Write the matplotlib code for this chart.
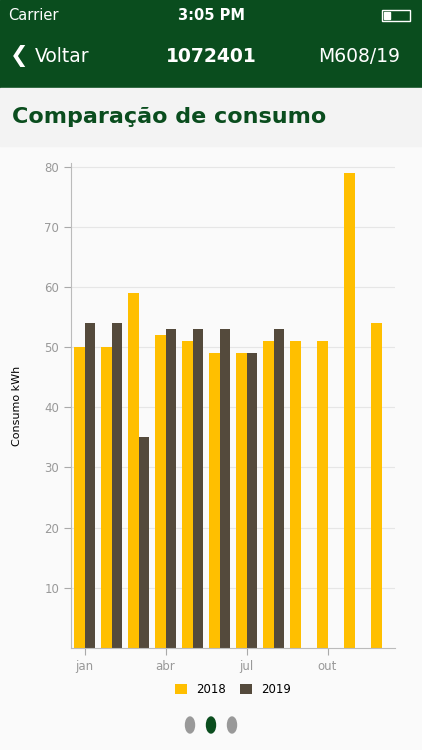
import matplotlib
matplotlib.use("Agg")
import matplotlib.pyplot as plt
import numpy as np

months = list(range(12))
tick_pos = [0, 3, 6, 9]
tick_labels = ["jan", "abr", "jul", "out"]
v2018 = [50, 50, 59, 52, 51, 49, 49, 51, 51, 51, 79, 54]
v2019 = [54, 54, 35, 53, 53, 53, 49, 53]
yticks = [10, 20, 30, 40, 50, 60, 70, 80]

W, H = 422, 750
fig = plt.figure(figsize=(W/100, H/100), dpi=100)
fig.patch.set_facecolor("#fafafa")
green = "#0a4d1e"

def rect(y0, y1, color):
    fig.patches.append(plt.Rectangle((0, 1 - y1/H), 1, (y1 - y0)/H, transform=fig.transFigure, color=color, zorder=0))

rect(0, 88, green)
rect(88, 146, "#f3f3f3")
def t(x, y, s, **kw):
    fig.text(x/W, 1 - y/H, s, **kw)
t(8, 15, "Carrier", color="white", fontsize=10.5, va="center")
t(211, 15, "3:05 PM", color="white", fontsize=10.5, va="center", ha="center", weight="bold")
t(35, 56, "Voltar", color="white", fontsize=13.5, va="center")
t(10, 56, "❮", color="white", fontsize=16, va="center")
t(211, 56, "1072401", color="white", fontsize=13.5, va="center", ha="center", weight="bold")
t(400, 56, "M608/19", color="white", fontsize=13.5, va="center", ha="right")
t(12, 117, "Comparação de consumo", color=green, fontsize=16, va="center", weight="bold")
fig.patches.append(plt.Rectangle((382/W, 1-21/H), 28/W, 11/H, transform=fig.transFigure, fill=False, ec="white", lw=1))
fig.patches.append(plt.Rectangle((384/W, 1-19/H), 6/W, 7/H, transform=fig.transFigure, color="white"))

ax = fig.add_axes([71/W, 1 - 648/H, (395-71)/W, (648-163)/H])
ax.set_facecolor("#fafafa")
x = np.array(months)
ax.bar(x - 0.2, v2018, width=0.4, color="#ffbf00", label="2018", zorder=2)
ax.bar(np.arange(len(v2019)) + 0.2, v2019, width=0.4, color="#544a3c", label="2019", zorder=2)
ax.set_xlim(-0.5, 11.5)
ax.set_ylim(0, 80.6)
ax.set_yticks(yticks)
ax.set_xticks(tick_pos, tick_labels)
ax.tick_params(colors="#aaaaaa", labelcolor="#999999", labelsize=8.5, length=5)
ax.grid(axis="y", color="#e6e6e6", lw=0.8, zorder=0)
for s in ["top", "right"]:
    ax.spines[s].set_visible(False)
for s in ["left", "bottom"]:
    ax.spines[s].set_color("#bbbbbb")
ax.set_ylabel("Consumo kWh", fontsize=8, color="black", labelpad=16)
ax.legend(loc="upper center", bbox_to_anchor=(0.5, -0.05), ncol=2, frameon=False, fontsize=8.5,
          handlelength=1, handleheight=1, columnspacing=1.2)

for xx, c in [(190, "#999999"), (211, "#0a4d1e"), (232, "#999999")]:
    fig.patches.append(matplotlib.patches.Circle((xx/W, 1-725/H), 4.5/W, transform=fig.transFigure, color=c))
fig.savefig("out.png", dpi=100, facecolor=fig.get_facecolor())
